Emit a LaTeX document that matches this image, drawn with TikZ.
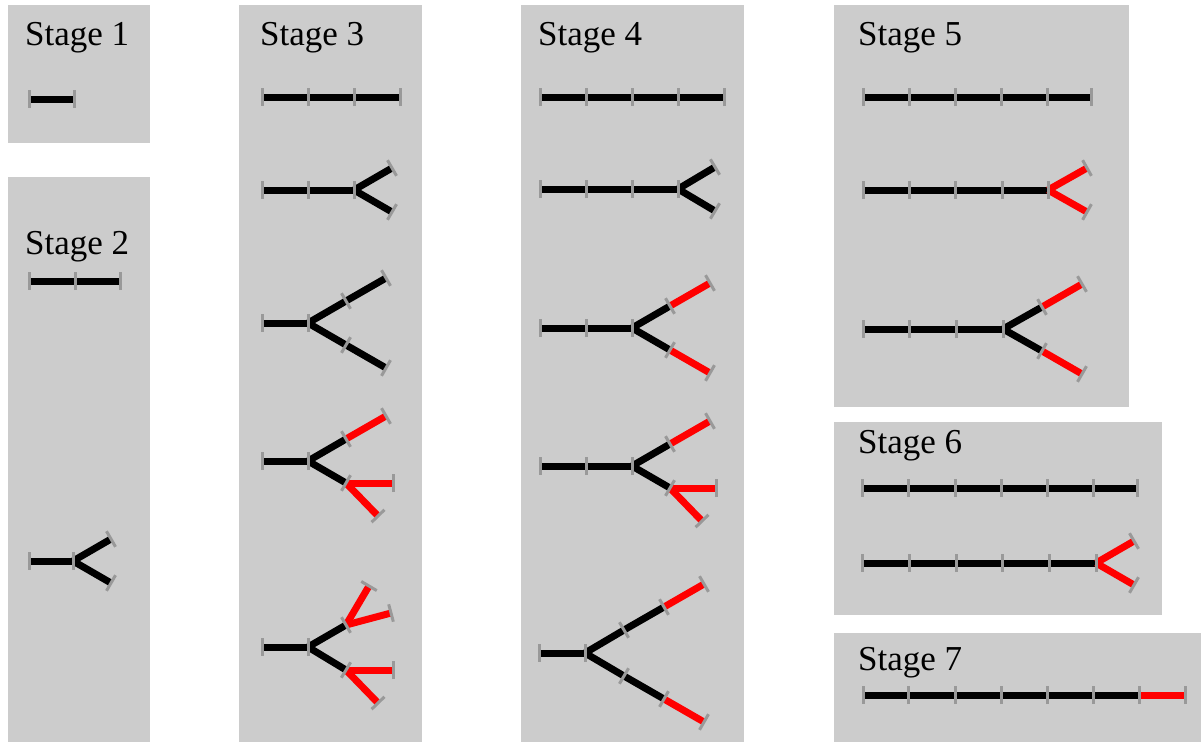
\documentclass[tikz,border=0pt]{standalone}
\usepackage{fontspec}
\setmainfont{Liberation Serif}
\usetikzlibrary{calc}
\pgfdeclarelayer{fg}
\pgfsetlayers{main,fg}
\definecolor{panelgray}{HTML}{CCCCCC}
\definecolor{tickgray}{HTML}{999999}
\definecolor{brred}{HTML}{FF0000}
\tikzset{
  panel/.style={fill=panelgray,draw=none},
  segline/.style={line width=7pt,line cap=butt},
  tickline/.style={draw=tickgray,line width=3pt,line cap=butt},
  title/.style={anchor=base west,inner sep=0pt,font=\fontsize{35}{40}\selectfont}
}
% segment from #2 to #3 with tick at #3
\newcommand\seg[3][black]{%
  \draw[segline,draw=#1] (#2) -- (#3);
  \begin{pgfonlayer}{fg}
  \draw[tickline] ($(#3)!9pt!90:(#2)$) -- ($(#3)!9pt!-90:(#2)$);
  \end{pgfonlayer}}
% root tick at #1 perpendicular towards #2
\newcommand\rootick[2]{%
  \begin{pgfonlayer}{fg}
  \draw[tickline] ($(#1)!9pt!90:(#2)$) -- ($(#1)!9pt!-90:(#2)$);
  \end{pgfonlayer}}
\begin{document}
\begin{tikzpicture}[x=1pt,y=-1pt]
\useasboundingbox (0,0) rectangle (1201,742);
% panels
\fill[panel] (8,5) rectangle (150,143);
\fill[panel] (8,177) rectangle (150,742);
\fill[panel] (239,5) rectangle (422,742);
\fill[panel] (521,5) rectangle (744,742);
\fill[panel] (834,5) rectangle (1129,407);
\fill[panel] (834,422) rectangle (1162,615);
\fill[panel] (834,633) rectangle (1201,742);
% titles
\node[title] (t1) at (25,45) {Stage 1};
\node[title] (t2) at (25,254) {Stage 2};
\node[title] (t3) at (260,45) {Stage 3};
\node[title] (t4) at (538,45) {Stage 4};
\node[title] (t5) at (858,45) {Stage 5};
\node[title] (t6) at (858,453) {Stage 6};
\node[title] (t7) at (858,670) {Stage 7};

% ---------- Stage 1
\coordinate (a0) at (29,99); \coordinate (a1) at (74,99);
\rootick{a0}{a1} \seg{a0}{a1}

% ---------- Stage 2
\coordinate (b0) at (29,281); \coordinate (b1) at (75,281); \coordinate (b2) at (120,281);
\rootick{b0}{b1} \seg{b0}{b1} \seg{b1}{b2}
\coordinate (c0) at (29,561); \coordinate (c1) at (73,561);
\coordinate (c2) at (111,539); \coordinate (c3) at (111,583);
\rootick{c0}{c1} \seg{c0}{c1} \seg{c1}{c2} \seg{c1}{c3}

% ---------- Stage 3
\coordinate (d0) at (262,97); \coordinate (d1) at (308,97); \coordinate (d2) at (354,97); \coordinate (d3) at (400,97);
\rootick{d0}{d1} \seg{d0}{d1} \seg{d1}{d2} \seg{d2}{d3}
\coordinate (e0) at (262,190); \coordinate (e1) at (308,190); \coordinate (e2) at (354,190);
\coordinate (e3) at (392,168); \coordinate (e4) at (392,212);
\rootick{e0}{e1} \seg{e0}{e1} \seg{e1}{e2} \seg{e2}{e3} \seg{e2}{e4}
\coordinate (f0) at (262,323); \coordinate (f1) at (308,323);
\coordinate (f2) at (346,301); \coordinate (f3) at (386,278);
\coordinate (f4) at (346,345); \coordinate (f5) at (386,368);
\rootick{f0}{f1} \seg{f0}{f1} \seg{f1}{f2} \seg{f2}{f3} \seg{f1}{f4} \seg{f4}{f5}
\coordinate (g0) at (262,461); \coordinate (g1) at (308,461);
\coordinate (g2) at (346,439); \coordinate (g3) at (386,416);
\coordinate (g4) at (346,483); \coordinate (g5) at (393,483); \coordinate (g6) at (378,516);
\rootick{g0}{g1} \seg{g0}{g1} \seg{g1}{g2} \seg[brred]{g2}{g3}
\seg{g1}{g4} \seg[brred]{g4}{g5} \seg[brred]{g4}{g6}
\coordinate (h0) at (262,647); \coordinate (h1) at (308,647);
\coordinate (h2) at (346,625); \coordinate (h3) at (369,586); \coordinate (h4) at (391,613);
\coordinate (h5) at (346,670); \coordinate (h6) at (393,670); \coordinate (h7) at (378,703);
\rootick{h0}{h1} \seg{h0}{h1} \seg{h1}{h2} \seg[brred]{h2}{h3} \seg[brred]{h2}{h4}
\seg{h1}{h5} \seg[brred]{h5}{h6} \seg[brred]{h5}{h7}

% ---------- Stage 4
\coordinate (i0) at (540,97); \coordinate (i1) at (586,97); \coordinate (i2) at (632,97);
\coordinate (i3) at (678,97); \coordinate (i4) at (724,97);
\rootick{i0}{i1} \seg{i0}{i1} \seg{i1}{i2} \seg{i2}{i3} \seg{i3}{i4}
\coordinate (j0) at (540,189); \coordinate (j1) at (586,189); \coordinate (j2) at (632,189);
\coordinate (j3) at (678,189); \coordinate (j4) at (715,167); \coordinate (j5) at (715,211);
\rootick{j0}{j1} \seg{j0}{j1} \seg{j1}{j2} \seg{j2}{j3} \seg{j3}{j4} \seg{j3}{j5}
\coordinate (k0) at (540,328); \coordinate (k1) at (586,328); \coordinate (k2) at (632,328);
\coordinate (k3) at (670,306); \coordinate (k4) at (710,283);
\coordinate (k5) at (670,350); \coordinate (k6) at (710,373);
\rootick{k0}{k1} \seg{k0}{k1} \seg{k1}{k2} \seg{k2}{k3} \seg[brred]{k3}{k4}
\seg{k2}{k5} \seg[brred]{k5}{k6}
\coordinate (l0) at (540,466); \coordinate (l1) at (586,466); \coordinate (l2) at (632,466);
\coordinate (l3) at (670,444); \coordinate (l4) at (710,421);
\coordinate (l5) at (670,488); \coordinate (l6) at (716,488); \coordinate (l7) at (702,521);
\rootick{l0}{l1} \seg{l0}{l1} \seg{l1}{l2} \seg{l2}{l3} \seg[brred]{l3}{l4}
\seg{l2}{l5} \seg[brred]{l5}{l6} \seg[brred]{l5}{l7}
\coordinate (m0) at (539,653); \coordinate (m1) at (585,653);
\coordinate (m2) at (624,630); \coordinate (m3) at (664,607); \coordinate (m4) at (704,584);
\coordinate (m5) at (624,676); \coordinate (m6) at (664,699); \coordinate (m7) at (704,722);
\rootick{m0}{m1} \seg{m0}{m1} \seg{m1}{m2} \seg{m2}{m3} \seg[brred]{m3}{m4}
\seg{m1}{m5} \seg{m5}{m6} \seg[brred]{m6}{m7}

% ---------- Stage 5
\coordinate (n0) at (863,97); \coordinate (n1) at (909,97); \coordinate (n2) at (955,97);
\coordinate (n3) at (1001,97); \coordinate (n4) at (1047,97); \coordinate (n5) at (1091,97);
\rootick{n0}{n1} \seg{n0}{n1} \seg{n1}{n2} \seg{n2}{n3} \seg{n3}{n4} \seg{n4}{n5}
\coordinate (o0) at (863,190); \coordinate (o1) at (909,190); \coordinate (o2) at (955,190);
\coordinate (o3) at (1002,190); \coordinate (o4) at (1048,190);
\coordinate (o5) at (1087,168); \coordinate (o6) at (1087,212);
\rootick{o0}{o1} \seg{o0}{o1} \seg{o1}{o2} \seg{o2}{o3} \seg{o3}{o4}
\seg[brred]{o4}{o5} \seg[brred]{o4}{o6}
\coordinate (p0) at (863,329); \coordinate (p1) at (909,329); \coordinate (p2) at (956,329);
\coordinate (p3) at (1003,329);
\coordinate (p4) at (1042,307); \coordinate (p5) at (1082,284);
\coordinate (p6) at (1042,351); \coordinate (p7) at (1082,374);
\rootick{p0}{p1} \seg{p0}{p1} \seg{p1}{p2} \seg{p2}{p3} \seg{p3}{p4} \seg[brred]{p4}{p5}
\seg{p3}{p6} \seg[brred]{p6}{p7}

% ---------- Stage 6
\coordinate (q0) at (862,488); \coordinate (q1) at (908,488); \coordinate (q2) at (955,488);
\coordinate (q3) at (1001,488); \coordinate (q4) at (1047,488); \coordinate (q5) at (1093,488);
\coordinate (q6) at (1137,488);
\rootick{q0}{q1} \seg{q0}{q1} \seg{q1}{q2} \seg{q2}{q3} \seg{q3}{q4} \seg{q4}{q5} \seg{q5}{q6}
\coordinate (r0) at (862,563); \coordinate (r1) at (909,563); \coordinate (r2) at (956,563);
\coordinate (r3) at (1002,563); \coordinate (r4) at (1049,563); \coordinate (r5) at (1096,563);
\coordinate (r6) at (1134,541); \coordinate (r7) at (1134,585);
\rootick{r0}{r1} \seg{r0}{r1} \seg{r1}{r2} \seg{r2}{r3} \seg{r3}{r4} \seg{r4}{r5}
\seg[brred]{r5}{r6} \seg[brred]{r5}{r7}

% ---------- Stage 7
\coordinate (s0) at (863,695); \coordinate (s1) at (908,695); \coordinate (s2) at (955,695);
\coordinate (s3) at (1001,695); \coordinate (s4) at (1047,695); \coordinate (s5) at (1093,695);
\coordinate (s6) at (1139,695); \coordinate (s7) at (1185,695);
\rootick{s0}{s1} \seg{s0}{s1} \seg{s1}{s2} \seg{s2}{s3} \seg{s3}{s4} \seg{s4}{s5} \seg{s5}{s6}
\seg[brred]{s6}{s7}
\end{tikzpicture}
\end{document}
